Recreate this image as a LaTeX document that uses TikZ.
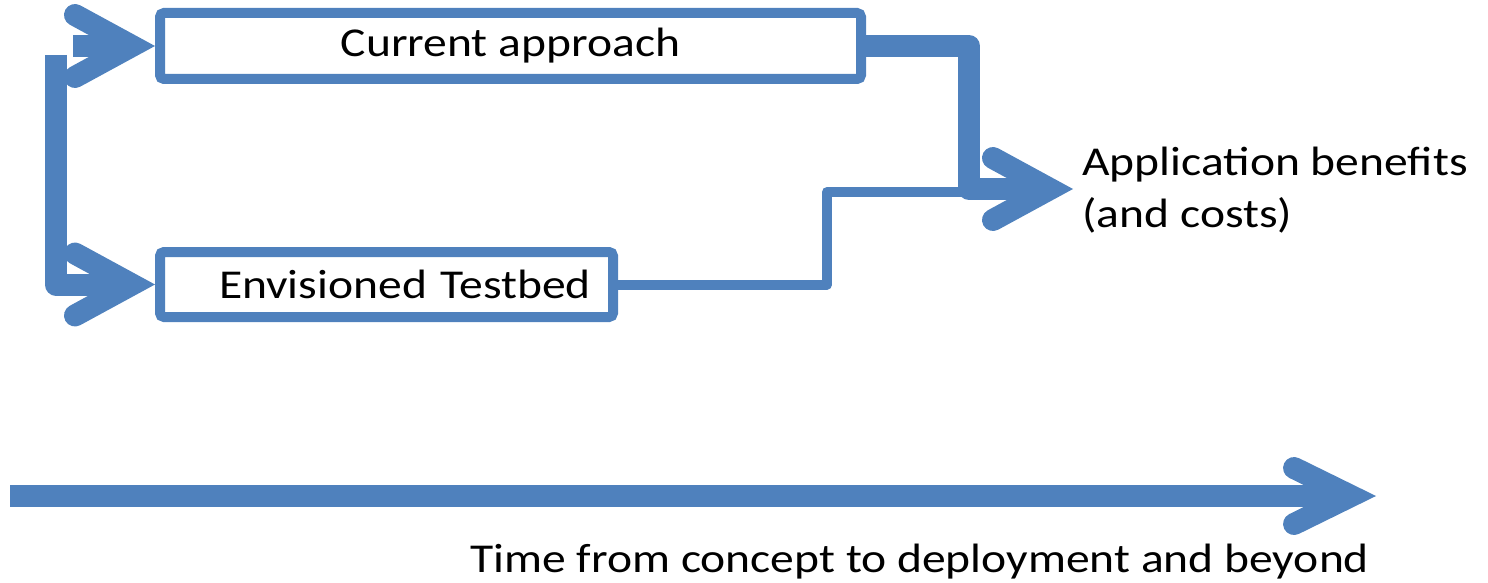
\documentclass[tikz,border=0pt]{standalone}
\usepackage{fontspec}
\setmainfont{Carlito}[FakeStretch=1.16]
\usetikzlibrary{arrows.meta}
\definecolor{accent}{RGB}{79,129,189}
\tikzset{
  stagebox/.style={draw=accent, line width=5pt, fill=white, rounded corners=2pt,
    inner sep=0pt, font=\fontsize{20.5}{25}\selectfont},
  flow/.style={draw=accent, line width=11pt, line join=round},
  thinflow/.style={draw=accent, line width=5pt, line join=round},
  openhead/.style={-{Straight Barb[length=28.5pt, width=31pt, line cap=round, line join=miter]}},
  axishead/.style={-{Straight Barb[length=28.5pt, width=28pt, line cap=round, line join=miter]}},
  caption/.style={inner sep=0pt, font=\fontsize{20.5}{25.5}\selectfont, align=left}
}
\begin{document}
\begin{tikzpicture}[x=0.5pt,y=-0.5pt]
\useasboundingbox (0,0) rectangle (1488,583);

% the two development routes
\node[stagebox, minimum width=350.5pt, minimum height=33pt] (ca) at (510.5,46) {Current approach};
\node[stagebox, minimum width=226.5pt, minimum height=32.5pt, text width=204.5pt, align=right]
  (tb) at (386.5,284.5) {Envisioned Testbed};

% outcome and time axis labels
\node[caption, anchor=base west] (app) at (1082,227) {Application benefits\\(and costs)};
\node[caption, anchor=base west] (time) at (470,572) {Time from concept to deployment and beyond};

% free ends of connectors
\coordinate (topstub) at (73,46);
\coordinate (leftrise) at (56,55);
\coordinate (rightbend) at (969,189);
\coordinate (apptip) at (1073,189);
\coordinate (tstep) at (827,192);
\coordinate (tend) at (1040,192);
\coordinate (t0) at (10,496);
\coordinate (t1) at (1376,496);

% branching into both routes
\draw[flow, openhead] (topstub) -- (ca.west);
\draw[flow, openhead] (leftrise) |- (tb.west);

% routes converging on the outcome
\draw[flow, openhead] (ca.east) -| (rightbend) -- (apptip);
\draw[thinflow] (tb.east) -| (tstep) -- (tend);

% time axis
\draw[flow, axishead] (t0) -- (t1);
\end{tikzpicture}
\end{document}
